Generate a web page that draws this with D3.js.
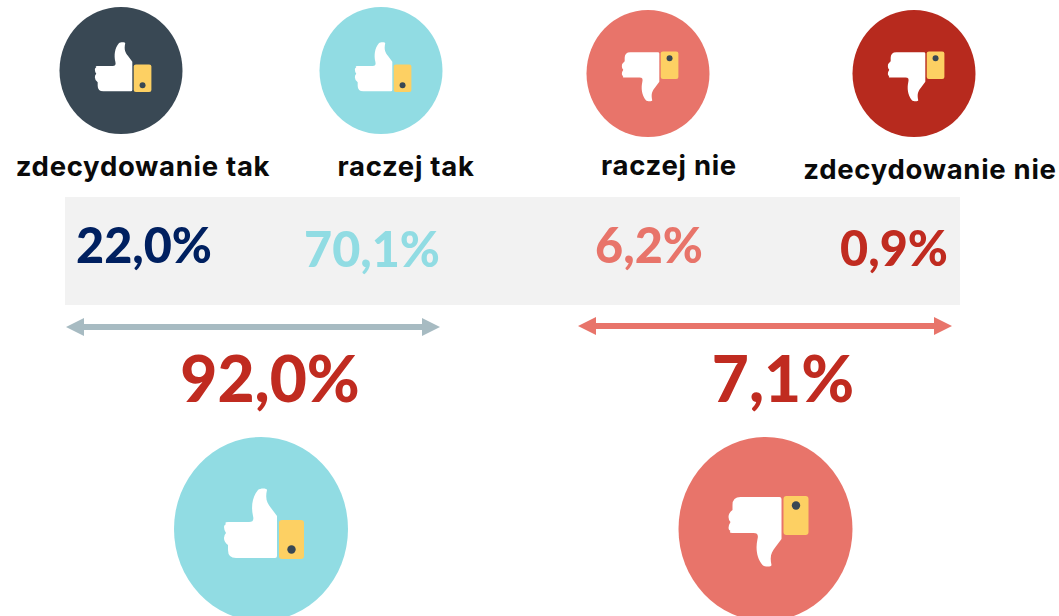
<!DOCTYPE html>
<html>
<head>
<meta charset="utf-8">
<script src="https://cdn.jsdelivr.net/npm/d3@7"></script>
<style>
  html, body { margin: 0; padding: 0; background: #fff; }
  svg { display: block; }
  text { font-family: "Lato", "Open Sans", sans-serif; font-weight: 900; }
  text.cat-label { font-family: "Inter", "Lato", sans-serif; font-weight: 700; letter-spacing: 0.7px; }
</style>
</head>
<body>
<svg id="chart" width="1059" height="616"></svg>
<script>
//Data
const categories = ['zdecydowanie tak', 'raczej tak', 'raczej nie', 'zdecydowanie nie'];
const shares = [22.0, 70.1, 6.2, 0.9];
const groupNames = ['tak', 'nie'];
const groupTotals = [92.0, 7.1];

const fmt = d3.formatLocale({decimal: ',', thousands: ' ', grouping: [3], currency: ['', '']}).format('.1f');
const pct = d => fmt(d) + '%';

//layout, one entry per category
const circleX = d3.scaleOrdinal().domain(categories).range([121, 381, 648, 914]);
const circleY = d3.scaleOrdinal().domain(categories).range([70.5, 70.5, 73.5, 73.5]);
const circleFill = d3.scaleOrdinal().domain(categories).range(['#394854', '#91dce3', '#e8746a', '#b72a1e']);
const labelX = d3.scaleOrdinal().domain(categories).range([143, 406, 669, 930]);
const labelY = d3.scaleOrdinal().domain(categories).range([176, 176, 175, 179]);
const valueX = d3.scaleOrdinal().domain(categories).range([144, 372, 649, 894]);
const valueY = d3.scaleOrdinal().domain(categories).range([263, 267, 263, 266]);
const valueFill = d3.scaleOrdinal().domain(categories).range(['#002060', '#91dce3', '#e8746a', '#c02b20']);

const groupX0 = d3.scaleOrdinal().domain(groupNames).range([66, 578]);
const groupX1 = d3.scaleOrdinal().domain(groupNames).range([440, 952]);
const groupArrowY = d3.scaleOrdinal().domain(groupNames).range([327, 326]);
const groupText = d3.scaleOrdinal().domain(groupNames).range([270, 783]);
const groupFill = d3.scaleOrdinal().domain(groupNames).range(['#91dce3', '#e8746a']);
const groupCx = d3.scaleOrdinal().domain(groupNames).range([261, 765.5]);
const groupIconDy = d3.scaleOrdinal().domain(groupNames).range([-4, 1]);
const arrowFill = d3.scaleOrdinal().domain(groupNames).range(['#a7bbc2', '#e8746a']);

const svg = d3.select('#chart');

//thumb outline, pointing up, drawn around 0,0 at the size of the big circles
const thumbPath = 'M-33,-3 L-12,-3 C-8,-3 -7,-5 -8,-9 C-10,-18 -9,-28 -3,-35 C-1,-37 6,-37 6,-35 C4,-26 6,-22 10,-17 ' +
  'L16,-9 L16,31 Q16,33 14,33 L-25,33 Q-33,33 -33,25 L-33,20 Q-37,17 -37,13 Q-37,10 -35,8 Q-37,5 -37,2 Q-37,0 -35,-1 Q-37,-3 -33,-3 Z';

function drawIcon(parent, cx, cy, rx, ry, iconDy, down, fill) {
  const k = rx / 87;
  parent.append('ellipse').attr('cx', cx).attr('cy', cy).attr('rx', rx).attr('ry', ry).attr('fill', fill);
  const g = parent.append('g')
    .attr('transform', `translate(${cx},${cy + iconDy}) scale(${k},${down ? -k : k})`);
  g.append('path').attr('d', thumbPath).attr('fill', '#fff');
  g.append('rect').attr('x', 18).attr('y', -5).attr('width', 25).attr('height', 39).attr('rx', 3).attr('fill', '#fdd063');
  g.append('circle').attr('cx', 30.5).attr('cy', 24.5).attr('r', 4.2).attr('fill', '#394854');
}

//grey band behind the percentages
svg.append('rect').attr('x', 65).attr('y', 197).attr('width', 895).attr('height', 108).attr('fill', '#f2f2f2');

//top icons
categories.forEach((c, i) => {
  drawIcon(svg, circleX(c), circleY(c), 61.5, 63.5, i < 2 ? -2.5 : 2, i >= 2, circleFill(c));
});

//labels
svg.selectAll('.cat-label')
  .data(categories)
  .enter().append('text')
  .attr('class', 'cat-label')
  .attr('x', d => labelX(d))
  .attr('y', d => labelY(d))
  .attr('text-anchor', 'middle')
  .style('font-size', '27.5px')
  .attr('fill', '#0a0a0a')
  .text(d => d);

//percentages
svg.selectAll('.value')
  .data(categories)
  .enter().append('text')
  .attr('class', 'value')
  .attr('x', d => valueX(d))
  .attr('y', d => valueY(d))
  .attr('text-anchor', 'middle')
  .style('font-size', '48.5px')
  .attr('fill', d => valueFill(d))
  .text((d, i) => pct(shares[i]));

//double arrows
groupNames.forEach(g => {
  const x0 = groupX0(g), x1 = groupX1(g), y = groupArrowY(g), t = 3, hw = 18, hh = 9;
  svg.append('path')
    .attr('d', `M${x0},${y} L${x0 + hw},${y - hh} L${x0 + hw},${y - t} L${x1 - hw},${y - t} L${x1 - hw},${y - hh} L${x1},${y} ` +
      `L${x1 - hw},${y + hh} L${x1 - hw},${y + t} L${x0 + hw},${y + t} L${x0 + hw},${y + hh} Z`)
    .attr('fill', arrowFill(g));
});

//totals
svg.selectAll('.total')
  .data(groupNames)
  .enter().append('text')
  .attr('class', 'total')
  .attr('x', d => groupText(d))
  .attr('y', 402)
  .attr('text-anchor', 'middle')
  .style('font-size', '64px')
  .attr('fill', '#c02b20')
  .text((d, i) => pct(groupTotals[i]));

//bottom icons
groupNames.forEach((g, i) => {
  drawIcon(svg, groupCx(g), 529, 87, 92, groupIconDy(g), i === 1, groupFill(g));
});
</script>
</body>
</html>
